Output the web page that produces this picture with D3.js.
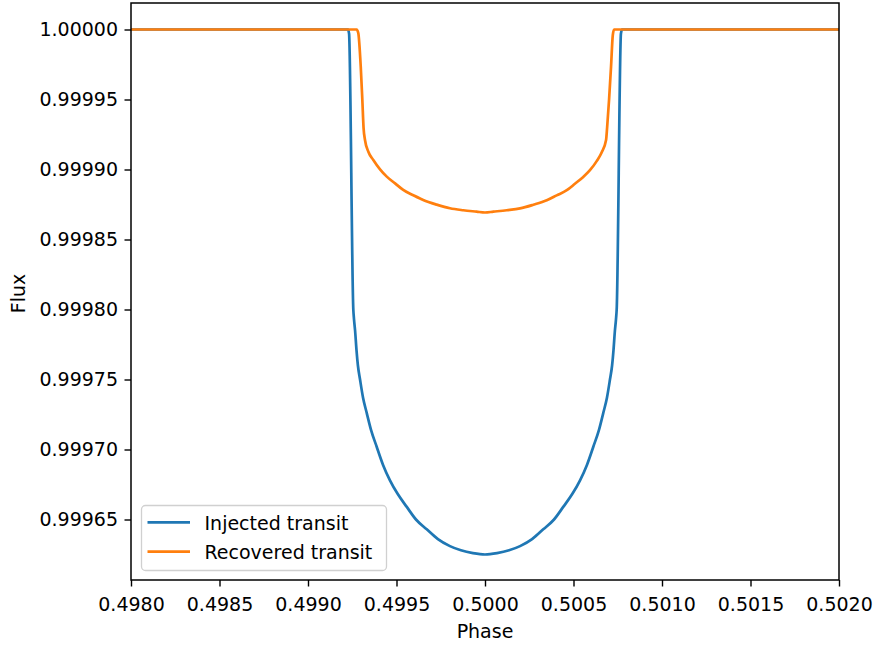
<!DOCTYPE html>
<html>
<head>
<meta charset="utf-8">
<script src="https://cdn.jsdelivr.net/npm/d3@7"></script>
<style>
  html, body { margin: 0; padding: 0; background: #fff; }
  svg { display: block; font-family: "DejaVu Sans", sans-serif; }
</style>
</head>
<body>
<svg id="chart" width="876" height="646"></svg>
<script>
// ---- Data ----
const injectedPhase = [0.4980, 0.499226, 0.499232, 0.499256, 0.499260, 0.499266, 0.499274, 0.499282, 0.499294, 0.499311, 0.499332, 0.499356,
  0.499388, 0.499424, 0.499463, 0.499508, 0.499558, 0.499610, 0.499671, 0.499734, 0.499802, 0.499864, 0.499932, 0.500000,
  0.500068, 0.500136, 0.500198, 0.500266, 0.500329, 0.500390, 0.500442, 0.500492, 0.500537, 0.500576, 0.500612, 0.500644,
  0.500668, 0.500689, 0.500706, 0.500718, 0.500726, 0.500734, 0.500740, 0.500744, 0.500768, 0.500774, 0.5020];
const injectedFlux = [1.0, 1.0, 0.999997, 0.999800, 0.999793, 0.999785, 0.999771, 0.999760, 0.999750, 0.999737, 0.999726, 0.999714,
  0.999702, 0.999689, 0.999678, 0.999668, 0.999659, 0.999650, 0.999643, 0.999636, 0.999631, 0.999628, 0.999626, 0.999625,
  0.999626, 0.999628, 0.999631, 0.999636, 0.999643, 0.999650, 0.999659, 0.999668, 0.999678, 0.999689, 0.999702, 0.999714,
  0.999726, 0.999737, 0.999750, 0.999760, 0.999771, 0.999785, 0.999793, 0.999800, 0.999997, 1.0, 1.0];

const recoveredPhase = [0.4980, 0.499275, 0.499284, 0.499298, 0.499307, 0.499314, 0.499322, 0.499341, 0.499369, 0.499407, 0.499445,
  0.499492, 0.499538, 0.499595, 0.499651, 0.499727, 0.499802, 0.499877, 0.499953, 0.500000,
  0.500047, 0.500123, 0.500198, 0.500273, 0.500349, 0.500405, 0.500462, 0.500508, 0.500555, 0.500593, 0.500631, 0.500659,
  0.500684, 0.500690, 0.500701, 0.500712, 0.500722, 0.500729, 0.5020];
const recoveredFlux = [1.0, 1.0, 0.9999975, 0.9999734, 0.9999496, 0.9999296, 0.9999211, 0.9999127, 0.9999068, 0.9999001, 0.9998949,
  0.9998901, 0.9998854, 0.9998816, 0.9998782, 0.9998749, 0.9998723, 0.9998709, 0.9998699, 0.9998693,
  0.9998699, 0.9998709, 0.9998722, 0.9998748, 0.9998780, 0.9998815, 0.9998852, 0.9998898, 0.9998947, 0.9998995, 0.9999060, 0.9999122,
  0.9999211, 0.9999300, 0.9999500, 0.9999733, 0.9999960, 1.0, 1.0];

const xTicks = [0.4980, 0.4985, 0.4990, 0.4995, 0.5000, 0.5005, 0.5010, 0.5015, 0.5020];
const yTicks = [1.00000, 0.99995, 0.99990, 0.99985, 0.99980, 0.99975, 0.99970, 0.99965];
const seriesNames = ["Injected transit", "Recovered transit"];
const seriesColors = ["#1f77b4", "#ff7f0e"];

// ---- Layout ----
const L = 131, R = 839, T = 3, B = 580;
const svg = d3.select("#chart");
const x = d3.scaleLinear().domain([0.4980, 0.5020]).range([L, R]);
const y = d3.scaleLinear().domain([0.99960679, 1.00001893]).range([B, T]);

const FS = 19;

svg.append("defs").append("clipPath").attr("id", "clip")
  .append("rect").attr("x", L).attr("y", T).attr("width", R - L).attr("height", B - T);

const line = d3.line().x(d => x(d[0])).y(d => y(d[1])).curve(d3.curveMonotoneX);
const series = [
  d3.zip(injectedPhase, injectedFlux),
  d3.zip(recoveredPhase, recoveredFlux)
];
const g = svg.append("g").attr("clip-path", "url(#clip)");
series.forEach((s, i) => {
  g.append("path").datum(s)
    .attr("d", line)
    .attr("fill", "none")
    .attr("stroke", seriesColors[i])
    .attr("stroke-width", 2.7)
    .attr("stroke-linejoin", "round")
    .attr("stroke-linecap", "butt");
});

// axes
const xAxis = d3.axisBottom(x).tickValues(xTicks).tickFormat(d3.format(".4f")).tickSize(6.5).tickPadding(6.5);
const yAxis = d3.axisLeft(y).tickValues(yTicks).tickFormat(d3.format(".5f")).tickSize(6.5).tickPadding(6.5);

const gx = svg.append("g").attr("transform", `translate(0,${B})`).call(xAxis);
const gy = svg.append("g").attr("transform", `translate(${L},0)`).call(yAxis);
[gx, gy].forEach(a => {
  a.select(".domain").remove();
  a.selectAll(".tick line").attr("stroke", "#000").attr("stroke-width", 1.4);
  a.selectAll(".tick text").attr("fill", "#000").style("font-size", FS + "px")
    .style("font-family", "DejaVu Sans");
});
gx.selectAll(".tick text").attr("y", 31).attr("dy", null);

// spines
svg.append("rect").attr("x", L).attr("y", T).attr("width", R - L).attr("height", B - T)
  .attr("fill", "none").attr("stroke", "#000").attr("stroke-width", 1.5);

// axis labels
svg.append("text").attr("x", (L + R) / 2).attr("y", 638)
  .attr("text-anchor", "middle").style("font-size", FS + "px").text("Phase");
svg.append("text").attr("transform", `translate(25,${(T + B) / 2 + 2}) rotate(-90)`)
  .attr("text-anchor", "middle").style("font-size", FS + "px").text("Flux");

// legend
const lg = svg.append("g");
lg.append("rect").attr("x", 141.5).attr("y", 505.5).attr("width", 245).attr("height", 65)
  .attr("rx", 4).attr("ry", 4)
  .attr("fill", "#fff").attr("fill-opacity", 0.8)
  .attr("stroke", "#d0d0d0").attr("stroke-width", 1.3);
seriesNames.forEach((n, i) => {
  const yy = 522.3 + i * 29.4;
  lg.append("line").attr("x1", 147.5).attr("x2", 190).attr("y1", yy).attr("y2", yy)
    .attr("stroke", seriesColors[i]).attr("stroke-width", 2.7);
  lg.append("text").attr("x", 204.5).attr("y", yy + 7.2)
    .style("font-size", FS + "px").attr("fill", "#000").text(n);
});
</script>
</body>
</html>
